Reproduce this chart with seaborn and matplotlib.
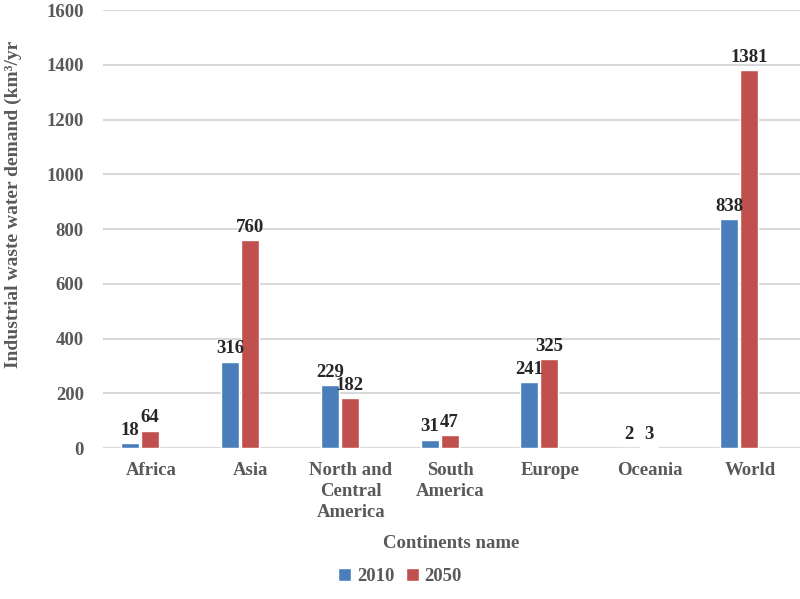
"""
Industrial waste water demand by continent, 2010 vs 2050.
"""
import numpy as np
import pandas as pd
import matplotlib
matplotlib.use('Agg')
import matplotlib.pyplot as plt
import seaborn as sns

# data
continents = ['Africa', 'Asia', 'North and\nCentral\nAmerica', 'South\nAmerica',
              'Europe', 'Oceania', 'World']
years = ['2010', '2050']
demand_2010 = [18, 316, 229, 31, 241, 2, 838]
demand_2050 = [64, 760, 182, 47, 325, 3, 1381]
y_ticks = [0, 200, 400, 600, 800, 1000, 1200, 1400, 1600]

BLUE = '#4a7ebb'
RED = '#c0504d'
GREY = '#595959'


def main():
    sns.set_theme(style='white')
    plt.rcParams['font.family'] = ['Liberation Serif', 'DejaVu Serif']
    plt.rcParams['font.weight'] = 'bold'

    df = pd.DataFrame({
        'continent': continents * 2,
        'year': [years[0]] * len(continents) + [years[1]] * len(continents),
        'demand': demand_2010 + demand_2050,
    })

    fig = plt.figure(figsize=(8, 5.99), dpi=100)
    ax = fig.add_axes([0.129, 0.252, 0.871, 0.731])

    sns.barplot(data=df, x='continent', y='demand', hue='year',
                palette=[BLUE, RED], width=0.4, gap=0.1, saturation=1,
                errorbar=None, ax=ax, zorder=3)

    # value labels above each bar
    for cont in ax.containers:
        ax.bar_label(cont, padding=3, fontsize=13.5, fontweight='bold',
                     color='#262626')

    ax.set_ylim(0, 1600)
    ax.set_yticks(y_ticks)
    ax.set_xlim(-0.37, 6.61)
    ax.set_xticks(np.arange(len(continents)) + 0.11)
    ax.set_xticklabels(continents, fontsize=13.5, fontweight='bold',
                       color=GREY, linespacing=1.3)
    ax.tick_params(axis='y', labelsize=13.5, labelcolor=GREY, length=0, pad=14)
    ax.tick_params(axis='x', length=0, pad=10)
    for lbl in ax.get_yticklabels():
        lbl.set_fontweight('bold')

    ax.grid(axis='y', color='#d9d9d9', linewidth=1.5, zorder=0)
    sns.despine(ax=ax, left=True, right=True, top=True, bottom=True)

    ax.set_xlabel('Continents name', fontsize=13.5, fontweight='bold',
                  color=GREY, labelpad=10)
    ax.set_ylabel('Industrial waste water demand (km³/yr', fontsize=14,
                  fontweight='bold', color=GREY)
    ax.yaxis.set_label_coords(-0.116, 0.557)

    handles, labels = ax.get_legend_handles_labels()
    ax.legend(handles, labels, loc='center', bbox_to_anchor=(0.5, 0.038),
              bbox_transform=fig.transFigure, ncol=2, frameon=False,
              handlelength=0.7, handleheight=0.7, handletextpad=0.3,
              columnspacing=0.6, prop={'size': 13.5, 'weight': 'bold'},
              labelcolor=GREY)

    fig.savefig('out.png', dpi=100)
    plt.close(fig)


if __name__ == '__main__':
    main()
